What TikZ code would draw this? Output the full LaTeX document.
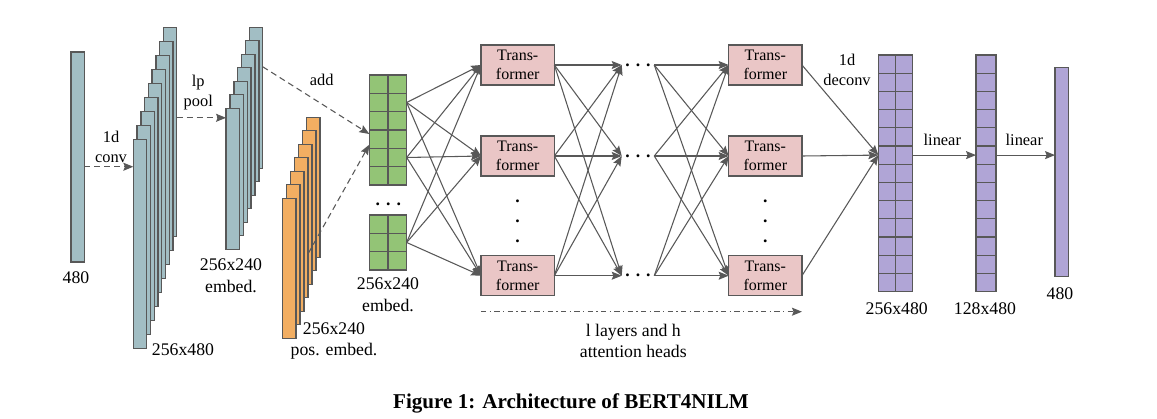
\documentclass[tikz,border=0pt]{standalone}
\usepackage{fontspec}
\setmainfont{Liberation Serif}
\usetikzlibrary{calc,arrows.meta}
\definecolor{convblue}{RGB}{162,190,196}
\definecolor{posorange}{RGB}{242,174,98}
\definecolor{embgreen}{RGB}{147,196,118}
\definecolor{trpink}{RGB}{234,198,198}
\definecolor{outpurple}{RGB}{176,165,214}
\definecolor{edgegray}{RGB}{88,88,88}
\tikzset{
	layer/.style={draw=edgegray, line width=1pt, inner sep=0pt, outer sep=0pt},
	bluebar/.style={layer, fill=convblue, minimum width=10pt},
	orangebar/.style={layer, fill=posorange, minimum width=10pt},
	greengrid/.style={layer, fill=embgreen, minimum width=28pt},
	purplegrid/.style={layer, fill=outpurple},
	gridline/.style={draw=edgegray, line width=1pt},
	tbox/.style={layer, fill=trpink, minimum width=55pt, minimum height=30pt,
		align=center, font=\fontsize{12}{14.4}\selectfont},
	conn/.style={draw=edgegray, line width=0.8pt, -{Stealth[length=7.5pt,width=6pt,inset=1.2pt]}},
	dasharr/.style={conn, dash pattern=on 4.5pt off 3pt},
	opl/.style={font=\fontsize{12.3}{15}\selectfont, align=center, inner sep=0pt},
	dim/.style={font=\fontsize{13.3}{16.3}\selectfont, align=center, inner sep=0pt},
	hdots/.style={font=\bfseries\fontsize{13.3}{16.3}\selectfont, inner sep=0pt, minimum width=24pt},
	vdots/.style={font=\bfseries\fontsize{13.3}{15}\selectfont, align=center, inner sep=0pt},
}
\begin{document}
\begin{tikzpicture}[x=0.75pt,y=-0.75pt]
\useasboundingbox (0,0) rectangle (1157,418);
% input and conv
\node[bluebar, minimum height=157.5pt] (in) at (77.5,157) {};
\node[dim] (inlab) at (76,278) {480};
\foreach \k in {8,7,...,0}
	\node[bluebar, minimum height=156.75pt] (conv\k) at (140+3.75*\k,243.8-14*\k) {};
\node[dim] (convlab) at (183,350) {256x480};
\coordinate (convin) at ([yshift=-7.3pt]in.east);
\draw[dasharr] (convin) -- (convin -| conv0.west);
\node[opl] (convop) at (111,147) {1d\\conv};
% pooled embedding
\foreach \k in {6,5,...,0}
	\node[bluebar, minimum height=105.75pt] (emb\k) at (232.7+3.9*\k,178.8-13.5*\k) {};
\coordinate (poolin) at ([yshift=10.5pt]conv8.east);
\draw[dasharr] (poolin) -- (poolin -| emb0.west);
\node[opl] (poolop) at (198.3,92.5) {lp\\pool};
\node[dim] (emblab) at (231,276) {256x240\\embed.};
% positional embedding
\foreach \k in {6,5,...,0}
	\node[orangebar, minimum height=105pt] (pos\k) at (289.3+4*\k,268.3-13.5*\k) {};
\node[dim] (poslab) at (334,341) {256x240\\pos. embed.};
% sum
\node[greengrid, minimum height=82.5pt] (g1) at (388,130) {};
\foreach \i in {1,...,5}
	\draw[gridline] ($(g1.north west)!\i/6!(g1.south west)$) -- ($(g1.north east)!\i/6!(g1.south east)$);
\draw[gridline] (g1.north) -- (g1.south);
\node[greengrid, minimum height=41.25pt] (g2) at (388,242.5) {};
\foreach \i in {1,2}
	\draw[gridline] ($(g2.north west)!\i/3!(g2.south west)$) -- ($(g2.north east)!\i/3!(g2.south east)$);
\draw[gridline] (g2.north) -- (g2.south);
\node[hdots] (gdots) at (388.3,204) {.\hspace{4.5pt}.\hspace{4.5pt}.};
\node[dim] (sumlab) at (388,295) {256x240\\embed.};
\coordinate (addout) at ($(emb6.north east)!0.28!(emb6.south east)$);
\coordinate (addin) at ([yshift=-3pt]g1.west);
\draw[dasharr] (addout) -- (addin);
\node[opl] (addop) at (321.7,80) {add};
\coordinate (posout) at ($(pos6.south west)+(1.7,-4)$);
\coordinate (posin) at ([yshift=-11pt]g1.west);
\draw[dasharr] (posout) -- (posin);
% transformers
\foreach \c/\x in {1/517.7,2/765.3}{
	\foreach \r/\y in {1/65,2/156,3/275.7}
		\node[tbox] (t\c\r) at (\x,\y) {Trans-\\former};
	\node[vdots] (vd\c) at (\x,221.7) {.\\.\\.};
}
\foreach \r/\y in {1/65,2/156,3/275.7}
	\node[hdots] (d\r) at (638,\y) {.\hspace{4.5pt}.\hspace{4.5pt}.};
\coordinate (ga) at ($(g1.north east)!0.25!(g1.south east)$);
\coordinate (gb) at ($(g1.north east)!0.75!(g1.south east)$);
\coordinate (gc) at (g2.east);
\foreach \s in {ga,gb,gc}
	\foreach \t in {t11,t12,t13}
		\draw[conn] (\s) -- (\t.west);
\foreach \s in {t11,t12,t13}
	\foreach \t in {d1,d2,d3}
		\draw[conn] (\s.east) -- (\t.west);
\foreach \s in {d1,d2,d3}
	\foreach \t in {t21,t22,t23}
		\draw[conn] (\s.east) -- (\t.west);
\coordinate (l0) at ([yshift=-12pt]t13.south west);
\coordinate (l1) at ([yshift=-12pt]t23.south east);
\draw[conn, dash pattern=on 4pt off 2.5pt on 1pt off 2.5pt] (l0) -- (l1);
\node[dim] (laylab) at (633.3,341) {l layers and h\\attention heads};
% output
\node[purplegrid, minimum width=25.8pt, minimum height=177.5pt] (p1) at (895.5,173.3) {};
\foreach \i in {1,...,12}
	\draw[gridline] ($(p1.north west)!\i/13!(p1.south west)$) -- ($(p1.north east)!\i/13!(p1.south east)$);
\draw[gridline] (p1.north) -- (p1.south);
\node[purplegrid, minimum width=15pt, minimum height=177.5pt] (p2) at (986,173.3) {};
\foreach \i in {1,...,12}
	\draw[gridline] ($(p2.north west)!\i/13!(p2.south west)$) -- ($(p2.north east)!\i/13!(p2.south east)$);
\node[purplegrid, minimum width=10pt, minimum height=157pt] (out) at (1061.7,172) {};
\coordinate (pin) at ($(p1.north west)!0.4231!(p1.south west)$);
\foreach \r in {1,2,3}
	\draw[conn] (t2\r.east) -- (pin);
\node[opl] (deconvop) at (847,70) {1d\\deconv};
\coordinate (pa) at ($(p1.north east)!0.4231!(p1.south east)$);
\draw[conn] (pa) -- (pa -| p2.west);
\coordinate (pb) at ($(p2.north east)!0.4231!(p2.south east)$);
\draw[conn] (pb) -- (pb -| out.west);
\node[opl] (lin1) at (942.3,140) {linear};
\node[opl] (lin2) at (1024.3,140) {linear};
\node[dim] (p1lab) at (896.7,308.3) {256x480};
\node[dim] (p2lab) at (985,308.3) {128x480};
\node[dim] (outlab) at (1060,293.3) {480};
\node[font=\bfseries\fontsize{15.8}{19}\selectfont, inner sep=0pt] (cap) at (571,403) {Figure 1: Architecture of BERT4NILM};
\end{tikzpicture}
\end{document}
